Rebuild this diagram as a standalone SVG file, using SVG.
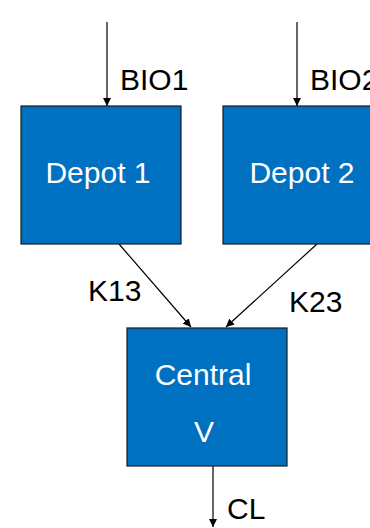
<svg xmlns="http://www.w3.org/2000/svg" width="370" height="528" viewBox="0 0 370 528">
  <style>
    .box { fill: #0070C0; stroke: #1a1a1a; stroke-width: 1.2; }
    .inner { font-family: "Liberation Sans", Arial, sans-serif; font-size: 30px; fill: #ffffff; text-anchor: middle; }
    .lbl { font-family: "Liberation Sans", Arial, sans-serif; font-size: 30px; fill: #000000; }
    .edge { stroke: #000000; stroke-width: 1.2; fill: none; marker-end: url(#arrow); }
  </style>
  <defs>
    <marker id="arrow" markerWidth="8" markerHeight="8" refX="8" refY="4" orient="auto" markerUnits="userSpaceOnUse">
      <path d="M0,0 L8,4 L0,8 Z" fill="#000000"/>
    </marker>
  </defs>
  <rect width="370" height="528" fill="#ffffff"/>

  <g id="connectors">
    <line class="edge" x1="107" y1="22" x2="107" y2="106"/>
    <line class="edge" x1="297" y1="22" x2="297" y2="106"/>
    <line class="edge" x1="119" y1="244" x2="191" y2="327"/>
    <line class="edge" x1="317" y1="244" x2="226" y2="327"/>
    <line class="edge" x1="213" y1="466" x2="213" y2="527"/>
    <text class="lbl" x="120" y="90">BIO1</text>
    <text class="lbl" x="310" y="90">BIO2</text>
    <text class="lbl" x="88" y="301">K13</text>
    <text class="lbl" x="289" y="312">K23</text>
    <text class="lbl" x="227" y="519">CL</text>
  </g>

  <g id="depot1">
    <rect class="box" x="21" y="106" width="160" height="138"/>
    <text class="inner" x="98" y="183">Depot 1</text>
  </g>

  <g id="depot2">
    <rect class="box" x="223" y="106" width="160" height="138"/>
    <text class="inner" x="302" y="183">Depot 2</text>
  </g>

  <g id="central">
    <rect class="box" x="127" y="328" width="160" height="138"/>
    <text class="inner" x="203" y="385">Central</text>
    <text class="inner" x="204" y="442">V</text>
  </g>
</svg>
